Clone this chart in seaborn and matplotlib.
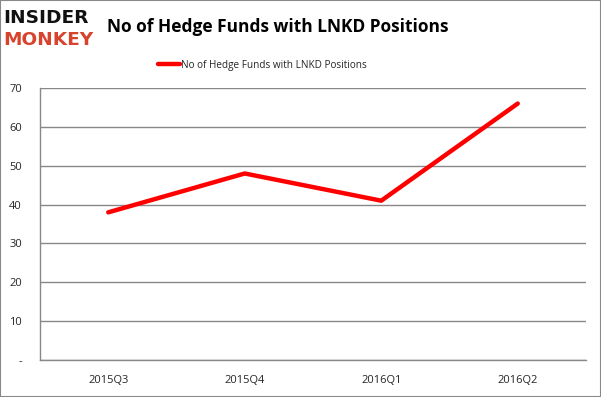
import matplotlib
matplotlib.use("Agg")
import matplotlib.pyplot as plt
import seaborn as sns
import pandas as pd
from matplotlib.patches import Rectangle

quarters = ["2015Q3", "2015Q4", "2016Q1", "2016Q2"]
funds = [38, 48, 41, 66]
series_name = "No of Hedge Funds with LNKD Positions"
yticks = [0, 10, 20, 30, 40, 50, 60, 70]
ytick_labels = ["-", "10", "20", "30", "40", "50", "60", "70"]

df = pd.DataFrame({"quarter": quarters, "funds": funds, "x": range(len(quarters))})

sns.set_style("white")
plt.rcParams["font.family"] = ["Open Sans", "DejaVu Sans"]

fig = plt.figure(figsize=(6.01, 3.97), dpi=100)
ax = fig.add_axes([40/601, 1-360/397, (586-40)/601, (360-88)/397])

sns.lineplot(data=df, x="x", y="funds", ax=ax, color="#ff0000", linewidth=3.2,
             label=series_name, solid_capstyle="round")

ax.set_xlim(-0.5, len(quarters) - 0.5)
ax.set_ylim(0, 70)
ax.set_yticks(yticks)
ax.set_yticklabels(ytick_labels, fontsize=8)
ax.set_xticks(range(len(quarters)))
ax.set_xticklabels(quarters, fontsize=8)
ax.set_xticks([i - 0.5 for i in range(len(quarters) + 1)], minor=True)
ax.tick_params(axis="x", which="major", length=0, pad=11)
ax.tick_params(axis="x", which="minor", length=4, color="#888888", width=1, direction="out")
ax.tick_params(axis="y", length=3, color="#888888", width=1, pad=10)
ax.grid(axis="y", color="#888888", linewidth=1)
ax.set_xlabel("")
ax.set_ylabel("")
for s in ["top", "right"]:
    ax.spines[s].set_visible(False)
for s in ["left", "bottom"]:
    ax.spines[s].set_color("#888888")
    ax.spines[s].set_linewidth(1)

leg = ax.legend(loc="lower center", bbox_to_anchor=((262 - 40) / 546, 1.03), frameon=False,
                fontsize=7.2, handlelength=2.2, handletextpad=0.1)

fig.text(0.5 * (107 + 449) / 601, 1 - 27 / 397, series_name, ha="center", va="center",
         fontsize=12.5, fontweight="bold", color="#000000")
fig.text(3/601, 1 - 18/397, "INSIDER", ha="left", va="center", fontsize=13.3,
         fontweight="heavy", color="#111111", family=["DejaVu Sans"])
fig.text(3/601, 1 - 40/397, "MONKEY", ha="left", va="center", fontsize=13.3,
         fontweight="heavy", color="#d8432e", family=["DejaVu Sans"])

fig.patches.append(Rectangle((0, 0), 1, 1, transform=fig.transFigure, fill=False,
                             edgecolor="#888888", linewidth=1.5))

fig.savefig("out.png", dpi=100)
